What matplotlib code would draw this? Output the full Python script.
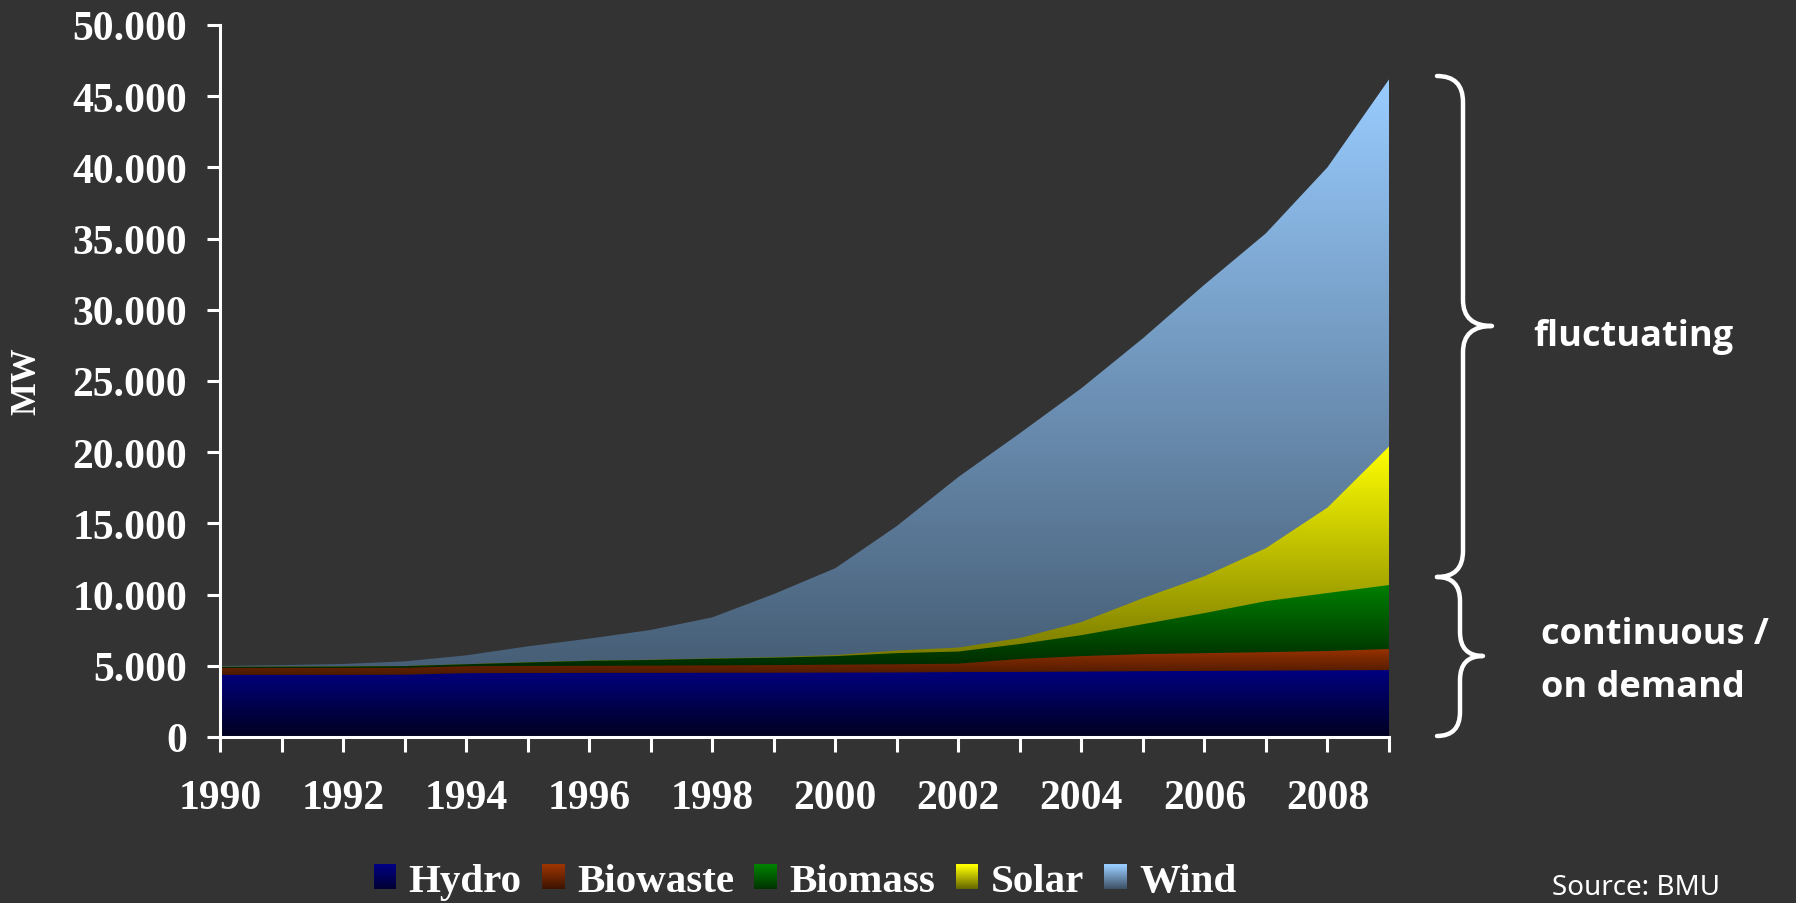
import numpy as np
import matplotlib
matplotlib.use("Agg")
import matplotlib.pyplot as plt
from matplotlib.colors import LinearSegmentedColormap, to_rgb
from matplotlib.patches import Rectangle, PathPatch
from matplotlib.path import Path
from matplotlib.ticker import FuncFormatter, MultipleLocator
from matplotlib.font_manager import FontProperties

# installed capacity in MW, Germany
years = np.arange(1990, 2010)
hydro = [4360, 4360, 4360, 4370, 4480, 4490, 4500, 4500, 4510, 4510,
         4520, 4530, 4560, 4570, 4590, 4620, 4640, 4660, 4680, 4700]
biowaste = [490, 490, 490, 490, 490, 495, 500, 510, 520, 540,
            560, 580, 590, 910, 1090, 1200, 1250, 1300, 1360, 1480]
biomass = [80, 90, 100, 120, 140, 250, 350, 400, 470, 520,
           600, 780, 850, 1050, 1470, 2100, 2810, 3580, 4070, 4490]
solar = [1, 2, 3, 5, 6, 8, 11, 18, 23, 32,
         76, 186, 280, 420, 920, 1830, 2590, 3720, 6000, 9730]
wind = [55, 106, 174, 326, 618, 1121, 1549, 2089, 2877, 4435,
        6097, 8738, 11976, 14381, 16419, 18248, 20474, 22116, 23897, 25777]

names = ["Hydro", "Biowaste", "Biomass", "Solar", "Wind"]
series = [hydro, biowaste, biomass, solar, wind]
top_colors = ["#000080", "#993300", "#008000", "#ffff00", "#99ccff"]
dark_factor = [0.25, 0.45, 0.3, 0.45, 0.46]

BG = "#333333"
W, H = 1796, 904


def make_cmap(c, f):
    r, g, b = to_rgb(c)
    return LinearSegmentedColormap.from_list("grad", [(r * f, g * f, b * f), (r, g, b)])


class GradientHandler:
    def __init__(self, cmap):
        self.cmap = cmap

    def legend_artist(self, legend, orig_handle, fontsize, handlebox):
        x0, y0 = -handlebox.xdescent, -handlebox.ydescent
        w, h = handlebox.width, handlebox.height
        n = 24
        last = None
        for i in range(n):
            last = Rectangle((x0, y0 + h * i / n), w, h / n + 0.3,
                             facecolor=self.cmap(i / (n - 1)), edgecolor="none",
                             transform=handlebox.get_transform())
            handlebox.add_artist(last)
        return last


def fx(px):
    return px / W


def fy(py):
    return 1 - py / H


def brace(x0, x1, x2, yt, ym, yb, r):
    # "}" shape in pixel coords (y downwards)
    pts = [(x0, yt), (x1, yt), (x1, yt + r),
           (x1, ym - r), (x1, ym), (x2, ym),
           (x1, ym), (x1, ym + r),
           (x1, yb - r), (x1, yb), (x0, yb)]
    codes = [Path.MOVETO, Path.CURVE3, Path.CURVE3,
             Path.LINETO, Path.CURVE3, Path.CURVE3,
             Path.CURVE3, Path.CURVE3,
             Path.LINETO, Path.CURVE3, Path.CURVE3]
    verts = [(fx(x), fy(y)) for x, y in pts]
    return PathPatch(Path(verts, codes), transform=fig.transFigure, fill=False,
                     edgecolor="white", lw=3.2, capstyle="round", joinstyle="round")


fig = plt.figure(figsize=(W / 100, H / 100), dpi=100, facecolor=BG)
ax = fig.add_axes([fx(220), fy(738), 1169 / W, 712 / H])
ax.set_facecolor(BG)

# stacked areas with vertical gradients, drawn top layer first
cmaps = [make_cmap(c, f) for c, f in zip(top_colors, dark_factor)]
bottoms = []
b = np.zeros(len(years))
for vals in series:
    bottoms.append(b.copy())
    b = b + np.array(vals)
eps = 150
grad = np.linspace(0, 1, 256).reshape(-1, 1)
for i in reversed(range(len(series))):
    lo = bottoms[i]
    hi = lo + np.array(series[i])
    lo_clip = np.maximum(lo - eps, 0) if i > 0 else lo
    poly = ax.fill_between(years, lo_clip, hi, facecolor="none", edgecolor="none", lw=0)
    im = ax.imshow(grad, extent=[1990, 2009, lo_clip.min(), hi.max()], origin="lower",
                   aspect="auto", cmap=cmaps[i], interpolation="bilinear", zorder=1)
    im.set_clip_path(poly.get_paths()[0], transform=ax.transData)

ax.set_xlim(1990, 2009)
ax.set_ylim(0, 50000)

serif = "Liberation Serif"
for s in ["top", "right"]:
    ax.spines[s].set_visible(False)
for s in ["left", "bottom"]:
    ax.spines[s].set_color("white")
    ax.spines[s].set_linewidth(2.2)

ax.xaxis.set_major_locator(MultipleLocator(2))
ax.xaxis.set_minor_locator(MultipleLocator(1))
ax.yaxis.set_major_locator(MultipleLocator(5000))
ax.yaxis.set_major_formatter(FuncFormatter(lambda v, p: f"{v:,.0f}".replace(",", ".")))
ax.tick_params(axis="x", which="both", direction="out", length=11, width=2.2, color="white")
ax.tick_params(axis="x", which="major", pad=19, labelsize=30, labelcolor="white")
ax.tick_params(axis="y", direction="out", length=9.5, width=2.2, color="white",
               pad=14, labelsize=30, labelcolor="white")
for lab in ax.get_xticklabels() + ax.get_yticklabels():
    lab.set_fontfamily(serif)
    lab.set_fontweight("bold")

fig.text(fx(27), fy(381), "MW", rotation=90, ha="center", va="center",
         color="white", fontsize=25, fontweight="bold", fontfamily=serif)

# legend, swatches a bit lighter than the areas
leg_cmaps = [make_cmap(c, 0.4) for c in top_colors]
handles = [Rectangle((0, 0), 1, 1) for _ in names]
hmap = {h: GradientHandler(c) for h, c in zip(handles, leg_cmaps)}
fig.legend(handles, names, handler_map=hmap, ncol=5, frameon=False, loc="center",
           bbox_to_anchor=(fx(805), fy(883)), bbox_transform=fig.transFigure,
           prop=FontProperties(family=serif, weight="bold", size=29.5), labelcolor="white",
           handlelength=0.55, handleheight=0.55, handletextpad=0.3, columnspacing=0.5,
           borderpad=0, borderaxespad=0)

# braces and side labels
fig.add_artist(brace(1437, 1463, 1492, 77, 327, 578, 26))
fig.add_artist(brace(1437, 1460, 1483, 578, 657, 737, 24))
sans_bold = "Open Sans"
fig.text(fx(1533), fy(346), "fluctuating", ha="left", va="baseline", color="white",
         fontsize=26, fontweight="bold", fontfamily=sans_bold)
fig.text(fx(1541), fy(644), "continuous /", ha="left", va="baseline", color="white",
         fontsize=26, fontweight="bold", fontfamily=sans_bold)
fig.text(fx(1541), fy(697), "on demand", ha="left", va="baseline", color="white",
         fontsize=26, fontweight="bold", fontfamily=sans_bold)
fig.text(fx(1552), fy(895), "Source: BMU", ha="left", va="baseline", color="white",
         fontsize=20, fontfamily="Noto Sans")

fig.savefig("out.png", dpi=100, facecolor=BG)
